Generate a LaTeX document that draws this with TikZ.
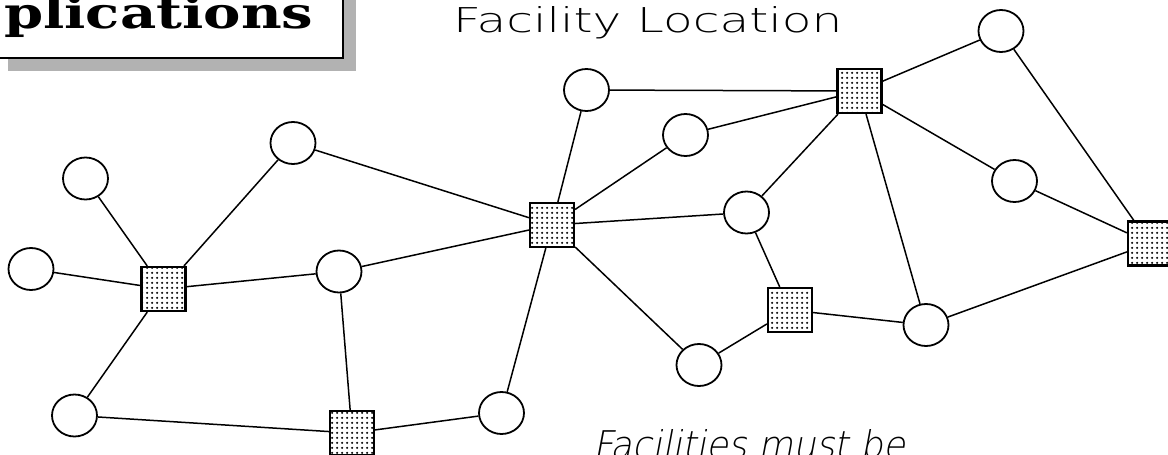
\documentclass[tikz,border=0pt]{standalone}
\usepackage{fontspec}
\usetikzlibrary{shapes.geometric,patterns.meta}
\newfontfamily\titlefont{DejaVu Serif}[UprightFont=* Bold]
\newfontfamily\thinsans{DejaVu Sans ExtraLight}
\newfontfamily\thinslant{DejaVu Sans ExtraLight}[FakeSlant=0.2]

% dotted fill used for the facility squares
\tikzdeclarepattern{
  name=facdots, type=uncolored,
  bounding box={(0pt,0pt) and (5pt,5pt)},
  tile size={(5pt,5pt)},
  code={\fill (2.5pt,2.5pt) circle (1.4pt);}
}

\tikzset{
  client/.style={ellipse, draw, line width=1.8pt, fill=white,
    minimum width=45pt, minimum height=42pt, inner sep=0pt},
  facility/.style={rectangle, draw, line width=2.2pt,
    preaction={fill=white}, pattern=facdots,
    minimum width=44pt, minimum height=44pt, inner sep=0pt},
  link/.style={line width=1.5pt},
}

\begin{document}
\begin{tikzpicture}[x=1pt,y=-1pt]
\useasboundingbox (0,0) rectangle (1168,455);

% heading box with its drop shadow
\fill[gray!60] (8,-10) rectangle (356,71);
\draw[line width=2.5pt, fill=white] (-10,-20) rectangle (343,58);
\node[anchor=base west, inner sep=0pt] (title) at (4,28)
  {\resizebox{309pt}{33pt}{\titlefont plications}};

\node[anchor=base west, inner sep=0pt] (sub) at (453,33)
  {\resizebox{389pt}{26pt}{\thinsans Facility Location}};

\node[anchor=base west, inner sep=0pt] (note) at (593,458)
  {\resizebox{312pt}{29pt}{\thinslant Facilities must be}};

% clients
\node[client] (c1)  at (85.5,178.5) {};
\node[client] (c2)  at (31,269) {};
\node[client] (c3)  at (74.5,415.5) {};
\node[client] (c4)  at (293,143) {};
\node[client] (c5)  at (339,271.5) {};
\node[client] (c6)  at (501.5,413) {};
\node[client] (c7)  at (586.5,90) {};
\node[client] (c8)  at (685.5,135) {};
\node[client] (c9)  at (746.5,212.5) {};
\node[client] (c10) at (699,365) {};
\node[client] (c11) at (1001,31) {};
\node[client] (c12) at (1014.5,181) {};
\node[client] (c13) at (926,325) {};

% facilities
\node[facility] (s1) at (163.5,289) {};
\node[facility] (s2) at (352,433) {};
\node[facility] (s3) at (552,225) {};
\node[facility] (s4) at (859.5,91) {};
\node[facility] (s5) at (790,310) {};
\node[facility] (s6) at (1150,243.5) {};

% links
\draw[link] (c1) -- (s1);
\draw[link] (c2) -- (s1);
\draw[link] (c3) -- (s1);
\draw[link] (c4) -- (s1);
\draw[link] (s1) -- (c5);
\draw[link] (c3) -- (s2);
\draw[link] (c5) -- (s2);
\draw[link] (s2) -- (c6);
\draw[link] (c5) -- (s3);
\draw[link] (c4) -- (s3);
\draw[link] (c6) -- (s3);
\draw[link] (c7) -- (s3);
\draw[link] (c8) -- (s3);
\draw[link] (c9) -- (s3);
\draw[link] (s3) -- (c10);
\draw[link] (c7) -- (s4);
\draw[link] (c8) -- (s4);
\draw[link] (c9) -- (s4);
\draw[link] (s4) -- (c11);
\draw[link] (s4) -- (c12);
\draw[link] (s4) -- (c13);
\draw[link] (c9) -- (s5);
\draw[link] (c10) -- (s5);
\draw[link] (s5) -- (c13);
\draw[link] (c11) -- (s6);
\draw[link] (c12) -- (s6);
\draw[link] (c13) -- (s6);
\end{tikzpicture}
\end{document}
